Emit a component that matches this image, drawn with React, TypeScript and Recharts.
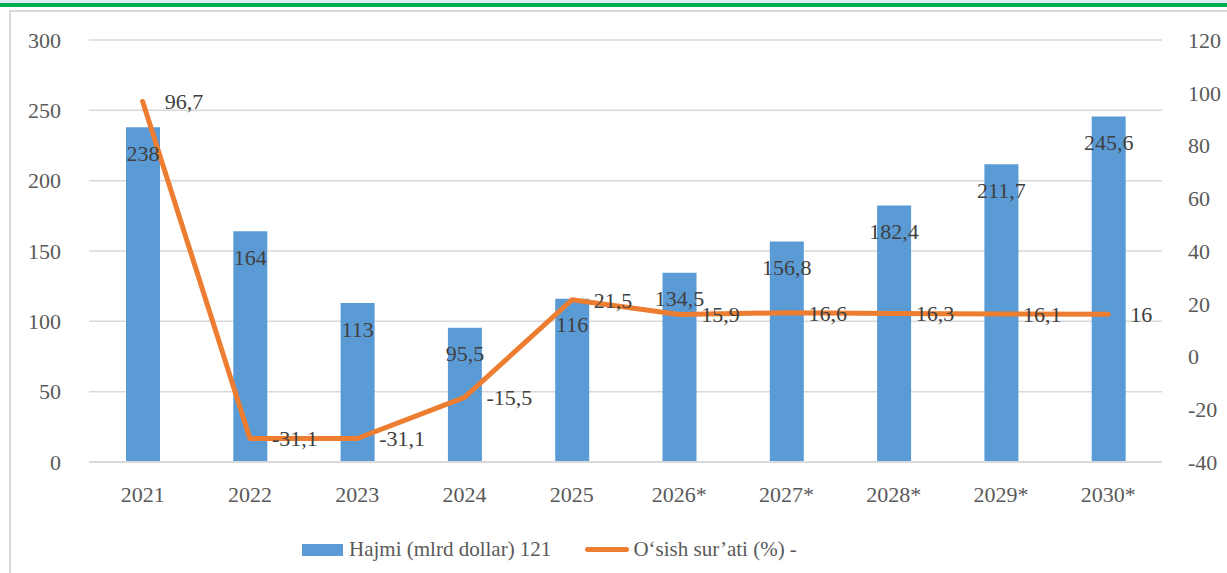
import React from "react";
import {
  ComposedChart,
  Bar,
  Line,
  XAxis,
  YAxis,
  CartesianGrid,
  LabelList,
} from "recharts";

const years = ["2021", "2022", "2023", "2024", "2025", "2026*", "2027*", "2028*", "2029*", "2030*"];
const volume = [238, 164, 113, 95.5, 116, 134.5, 156.8, 182.4, 211.7, 245.6];
const growth = [96.7, -31.1, -31.1, -15.5, 21.5, 15.9, 16.6, 16.3, 16.1, 16];
const leftTicks = [0, 50, 100, 150, 200, 250, 300];
const rightTicks = [-40, -20, 0, 20, 40, 60, 80, 100, 120];

const FONT = "'Liberation Serif', serif";
const BLUE = "#5b9bd5";
const ORANGE = "#ed7d31";

const fmt = (v: any) => String(v).replace(".", ",");

export default function App() {
  const data = years.map((y, i) => ({ year: y, volume: volume[i], growth: growth[i] }));

  return (
    <div style={{ position: "absolute", left: 0, top: 0, width: 1227, height: 573, background: "#fff", overflow: "hidden", fontFamily: FONT }}>
      <div style={{ position: "absolute", left: 0, top: 0, width: 1227, height: 3, background: "#deebf7" }} />
      <div style={{ position: "absolute", left: 0, top: 3, width: 1227, height: 4, background: "#00b050" }} />
      <div style={{ position: "absolute", left: 9, top: 10, width: 1240, height: 600, border: "2px solid #d9d9d9", boxSizing: "border-box" }} />
      <div style={{ position: "absolute", left: 0, top: 0 }}>
        <ComposedChart
          width={1227}
          height={573}
          data={data}
          margin={{ top: 40, right: 0, left: 0, bottom: 0 }}
        >
          <CartesianGrid vertical={false} stroke="#d9d9d9" strokeWidth={1.5} yAxisId="left" />
          <XAxis
            dataKey="year"
            height={111}
            tickLine={false}
            axisLine={{ stroke: "#d9d9d9", strokeWidth: 2 }}
            tick={{ fontSize: 22, fill: "#595959", fontFamily: FONT }}
            tickMargin={18}
          />
          <YAxis
            yAxisId="left"
            orientation="left"
            width={89}
            domain={[0, 300]}
            ticks={leftTicks}
            axisLine={false}
            tickLine={false}
            tickMargin={22}
            tick={{ fontSize: 22, fill: "#595959", fontFamily: FONT }}
          />
          <YAxis
            yAxisId="right"
            orientation="right"
            width={65}
            domain={[-40, 120]}
            ticks={rightTicks}
            axisLine={false}
            tickLine={false}
            tickMargin={20}
            tick={{ fontSize: 22, fill: "#595959", fontFamily: FONT }}
          />
          <Bar yAxisId="left" dataKey="volume" fill={BLUE} barSize={34} isAnimationActive={false}>
            <LabelList
              dataKey="volume"
              position="insideTop"
              offset={18}
              formatter={fmt}
              style={{ fontSize: 22, fill: "#404040", fontFamily: FONT }}
            />
          </Bar>
          <Line
            yAxisId="right"
            dataKey="growth"
            stroke={ORANGE}
            strokeWidth={5}
            strokeLinecap="round"
            strokeLinejoin="round"
            dot={false}
            isAnimationActive={false}
          >
            <LabelList
              dataKey="growth"
              position="right"
              offset={22}
              formatter={fmt}
              style={{ fontSize: 22, fill: "#404040", fontFamily: FONT }}
            />
          </Line>
        </ComposedChart>
      </div>
      <div style={{ position: "absolute", left: 302, top: 537, display: "flex", alignItems: "center", fontSize: 21, color: "#595959", whiteSpace: "nowrap" }}>
        <span style={{ display: "inline-block", width: 41, height: 12, background: BLUE, marginRight: 6 }} />
        <span>Hajmi (mlrd dollar) 121</span>
        <span style={{ display: "inline-block", width: 44, height: 5, borderRadius: 3, background: ORANGE, marginLeft: 34, marginRight: 4 }} />
        <span>O‘sish sur’ati (%) -</span>
      </div>
    </div>
  );
}
